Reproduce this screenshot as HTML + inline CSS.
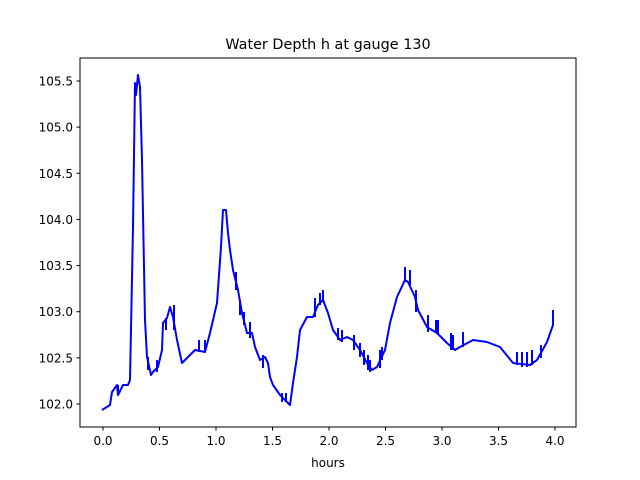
<!DOCTYPE html>
<html><head><meta charset="utf-8"><style>
body{margin:0;background:#fff;}
svg{display:block;font-family:"DejaVu Sans","Liberation Sans",sans-serif;}
</style></head><body>
<svg id="s" width="640" height="480" xmlns="http://www.w3.org/2000/svg">
<rect width="640" height="480" fill="#fff"/>
<text x="328" y="49" font-size="14.4" text-anchor="middle">Water Depth h at gauge 130</text>
<g id="ax"></g>
<polyline id="pl" fill="none" stroke="#0000ff" stroke-width="2" stroke-linejoin="round"/>
<g id="sp" stroke="#0000ff" stroke-width="2" fill="none"></g>
<rect x="80" y="58" width="496" height="369" fill="none" stroke="#000" stroke-width="1"/>
<text x="328" y="467" font-size="12" text-anchor="middle">hours</text>
</svg>
<script>
var X=function(t){return 103+t*113;},Y=function(h){return 404-(h-102)*92.29;};
var p=[[102,410],[110,405],[112,392],[117,385],[118,395],[123,385],[128,385],[130,380],[133,227],[135,83],[136,95],[138,75],[140,87],[142,160],[145,320],[147,357],[151,375],[153,372],[158,367],[162,350],[163,323],[167,318],[170,307],[173,317],[177,340],[182,363],[187,358],[192,353],[195,350],[205,352],[210,333],[217,303],[221,247],[223,210],[226,210],[228,233],[230,250],[233,270],[238,290],[242,313],[247,333],[252,333],[255,347],[260,360],[265,357],[268,363],[270,377],[273,385],[280,395],[287,402],[290,405],[293,383],[297,357],[300,330],[307,317],[313,317],[318,305],[323,300],[328,313],[333,330],[340,340],[347,337],[353,340],[360,350],[367,363],[372,370],[377,367],[385,350],[390,323],[397,297],[405,280],[408,282],[415,297],[418,310],[427,327],[437,333],[447,343],[455,350],[460,347],[473,340],[487,342],[500,347],[513,363],[530,365],[537,360],[547,342],[553,325],[553,310]];
document.getElementById('pl').setAttribute('points',p.map(function(q){return q.join(',');}).join(' '));
var spikes=[[118,385,395],[148,370,357],[157,360,372],[166,318,330],[174,305,330],[199,340,352],[205,340,352],[236,272,290],[240,300,315],[244,312,325],[250,322,338],[263,355,368],[282,393,402],[286,393,402],[315,298,317],[320,293,305],[323,290,300],[338,328,340],[342,330,342],[354,335,350],[360,343,357],[364,350,365],[368,355,370],[370,360,372],[380,350,368],[382,347,360],[405,267,282],[410,270,285],[416,290,312],[428,315,332],[436,320,333],[438,320,335],[451,333,350],[453,335,350],[463,332,347],[517,352,365],[522,352,367],[527,352,367],[532,350,365],[541,345,358]];
document.getElementById('sp').innerHTML=spikes.map(function(s){return '<line x1="'+s[0]+'" y1="'+s[1]+'" x2="'+s[0]+'" y2="'+s[2]+'"/>';}).join('');
var g='';
for(var i=0;i<=8;i++){var t=i*0.5,x=X(t);g+='<line x1="'+x+'" y1="427" x2="'+x+'" y2="430.5" stroke="#000"/><text x="'+x+'" y="445" font-size="12" text-anchor="middle">'+t.toFixed(1)+'</text>';}
for(var i=0;i<=7;i++){var h=102+i*0.5,y=Y(h);g+='<line x1="76.5" y1="'+y+'" x2="80" y2="'+y+'" stroke="#000"/><text x="73" y="'+(y+4.5)+'" font-size="12" text-anchor="end">'+h.toFixed(1)+'</text>';}
document.getElementById('ax').innerHTML=g;
</script>
</body></html>
